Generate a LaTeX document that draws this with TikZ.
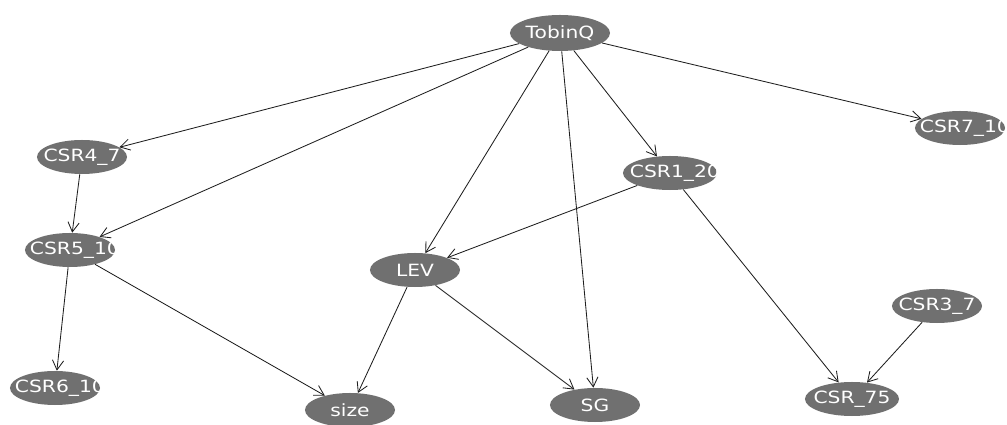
\documentclass[tikz,border=0pt]{standalone}
\usepackage{fontspec}
\setsansfont{DejaVu Sans}
\usepackage{tikz}
\usetikzlibrary{positioning,arrows.meta,shapes.geometric}
\definecolor{nodegray}{RGB}{112,112,112}
\definecolor{edgegray}{RGB}{30,30,30}
\newcommand{\longlabel}[1]{\makebox[2cm][l]{#1}}
\tikzset{
    var/.style={
        ellipse,
        fill=nodegray,
        text=white,
        minimum width=2.25cm,
        minimum height=0.85cm,
        inner xsep=-0.35cm,
        inner ysep=1pt,
        font=\sffamily\addfontfeature{FakeStretch=1.2}\fontsize{12}{14}\selectfont
    },
    arr/.style={-{Straight Barb[length=2.4mm,width=2.8mm]},semithick,edgegray}
}
\begin{document}
\begin{tikzpicture}[x=0.025cm,y=-0.025cm]
\useasboundingbox (0,0) rectangle (1007,425);

\node[var,minimum width=2.5cm,minimum height=0.9cm] (tq) at (560,33) {TobinQ};

\node[var] (c47) at (82,157) {CSR4\_7};
\node[var] (c510) at (70,250) {\longlabel{CSR5\_10}};
\node[var] (c610) at (55,388) {\longlabel{CSR6\_10}};

\node[var,minimum width=2.35cm] (c120) at (670,173) {\longlabel{CSR1\_20}};
\node[var] (c710) at (960,128) {\longlabel{CSR7\_10}};

\node[var] (lev) at (415,270) {LEV};
\node[var] (size) at (350,410) {size};
\node[var] (sg) at (595,405) {SG};

\node[var] (c37) at (937,306) {CSR3\_7};
\node[var,minimum width=2.35cm] (c75) at (852,399) {CSR\_75};

\draw[arr] (tq) -- (c47);
\draw[arr] (tq) -- (c510);
\draw[arr] (tq) -- (lev);
\draw[arr] (tq) -- (sg);
\draw[arr] (tq) -- (c120);
\draw[arr] (tq) -- (c710);
\draw[arr] (c47) -- (c510);
\draw[arr] (c510) -- (c610);
\draw[arr] (c510) -- (size);
\draw[arr] (c120) -- (lev);
\draw[arr] (c120) -- (c75);
\draw[arr] (lev) -- (size);
\draw[arr] (lev) -- (sg);
\draw[arr] (c37) -- (c75);
\end{tikzpicture}
\end{document}
